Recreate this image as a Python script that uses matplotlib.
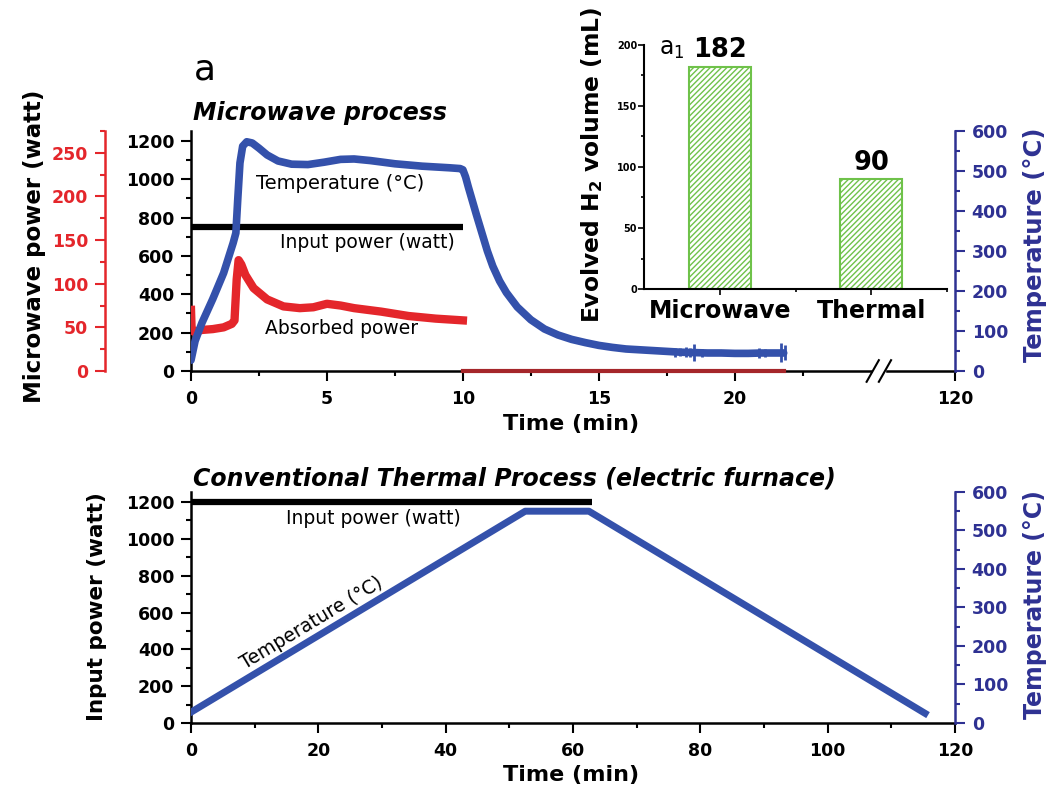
import matplotlib
matplotlib.use("Agg")
import matplotlib.pyplot as plt
from matplotlib.ticker import MultipleLocator, FixedLocator, FixedFormatter
from matplotlib.patches import Rectangle

plt.rcParams['font.family'] = ['DejaVu Sans']
plt.rcParams['mathtext.fontset'] = 'dejavusans'
plt.rcParams['mathtext.default'] = 'regular'
plt.rcParams['hatch.linewidth'] = 1.0

# ---- microwave process (top panel) ----
mw_time = [0, 0.15, 0.4, 0.8, 1.2, 1.55, 1.65, 1.72, 1.8, 1.9, 2.05, 2.25, 2.5, 2.8,
           3.2, 3.7, 4.3, 4.9, 5.5, 6.0, 6.6, 7.5, 8.5, 9.5, 9.9,
           10.0, 10.1, 10.2, 10.35, 10.5, 10.7, 10.9, 11.1, 11.35, 11.6, 12.0, 12.5,
           13.0, 13.5, 14.0, 14.5, 15.0, 15.5, 16.0, 16.5, 17.0, 17.5, 18.0, 18.5,
           19.0, 19.5, 20.0, 20.5, 21.0, 21.5, 21.8]
mw_temp = [27, 75, 120, 180, 245, 320, 345, 430, 520, 562, 573, 570, 557, 540,
           525, 517, 516, 522, 529, 530, 526, 518, 512, 508, 506,
           503, 485, 460, 425, 390, 345, 300, 262, 225, 196, 160, 128,
           105, 90, 79, 71, 64, 59, 55, 53, 51, 49, 47, 46,
           45, 45, 44, 44, 45, 45, 45]

# thermocouple noise spikes near the end of the cooling run
spike_time = [17.8, 18.0, 18.2, 18.35, 18.5, 18.8, 20.9, 21.1, 21.7, 21.85]
spike_low = [36, 38, 34, 36, 25, 35, 32, 36, 22, 28]
spike_high = [58, 57, 60, 58, 68, 56, 58, 56, 70, 64]

abs_time = [0, 0.02, 0.1, 0.4, 0.8, 1.2, 1.5, 1.6, 1.62, 1.68, 1.75, 1.85, 2.0,
            2.3, 2.8, 3.4, 4.0, 4.5, 5.0, 5.5, 6.0, 7.0, 8.0, 9.0, 10.0]
abs_power = [70, 50, 45, 47, 48, 50, 54, 58, 70, 105, 127, 122, 110,
             95, 82, 74, 72, 73, 77, 75, 72, 68, 63, 60, 58]
abs_off_time = [10.0, 21.8]
abs_off_power = [0, 0]

mw_input_time = [0, 10]
mw_input_power = [750, 750]

mw_xticks = [0, 5, 10, 15, 20]
break_at = 25.3      # position of the axis break (min)
axis_end = 28.1      # right end of the broken axis, labelled 120
end_label = '120'

# ---- conventional thermal process (bottom panel) ----
th_time = [0, 52.5, 62.5, 115.3]
th_temp = [28, 550, 550, 25]
th_input_time = [0, 63]
th_input_power = [1200, 1200]

# ---- inset bar chart ----
bar_labels = ['Microwave', 'Thermal']
bar_values = [182, 90]

BLUE_LINE = '#3451ab'
NAVY = '#2e3192'
RED = '#e4262b'
DARK_RED = '#a5262a'
GREEN = '#6fc24a'

TICK_FS = 12.5
fig = plt.figure(figsize=(10.53, 7.89), dpi=100)


def style_axis(ax, color, side):
    ax.spines[side].set_color(color)
    ax.spines[side].set_linewidth(1.8)
    ax.tick_params(axis='y', which='both', colors=color, width=1.5,
                   labelsize=TICK_FS, direction='out')
    ax.tick_params(axis='y', which='major', length=7, pad=5)
    ax.tick_params(axis='y', which='minor', length=3.5)
    for lab in ax.get_yticklabels():
        lab.set_fontweight('bold')


def style_xaxis(ax):
    ax.spines['bottom'].set_linewidth(1.8)
    ax.tick_params(axis='x', which='both', width=1.5, labelsize=TICK_FS,
                   direction='out')
    ax.tick_params(axis='x', which='major', length=7, pad=7)
    ax.tick_params(axis='x', which='minor', length=3.5)
    for lab in ax.get_xticklabels():
        lab.set_fontweight('bold')


# ================= top panel =================
ax1 = fig.add_axes([0.1814, 0.5298, 0.7255, 0.3042])
ax1.set_xlim(0, axis_end)
ax1.set_ylim(0, 1252)
for s in ['top', 'right']:
    ax1.spines[s].set_visible(False)
ax1.yaxis.set_major_locator(MultipleLocator(200))
ax1.yaxis.set_minor_locator(MultipleLocator(100))
ax1.xaxis.set_major_locator(FixedLocator(mw_xticks + [axis_end]))
ax1.xaxis.set_major_formatter(FixedFormatter([str(v) for v in mw_xticks] + [end_label]))
ax1.xaxis.set_minor_locator(FixedLocator([2.5, 7.5, 12.5, 17.5, 22.5]))
style_xaxis(ax1)
style_axis(ax1, 'black', 'left')

ax1.plot(mw_input_time, mw_input_power, color='black', lw=4.5, solid_capstyle='butt')

# red absorbed power axis, pushed outward to the left
ax_red = ax1.twinx()
ax_red.spines['left'].set_position(('outward', 62))
ax_red.spines['left'].set_visible(True)
ax_red.yaxis.set_label_position('left')
ax_red.yaxis.set_ticks_position('left')
for s in ['top', 'right', 'bottom']:
    ax_red.spines[s].set_visible(False)
ax_red.set_ylim(0, 275)
ax_red.yaxis.set_major_locator(MultipleLocator(50))
ax_red.yaxis.set_minor_locator(MultipleLocator(25))
style_axis(ax_red, RED, 'left')
ax_red.plot(abs_time, abs_power, color=RED, lw=6)
ax_red.plot(abs_off_time, abs_off_power, color=DARK_RED, lw=3, clip_on=False)

# temperature axis on the right
ax_t = ax1.twinx()
for s in ['top', 'left', 'bottom']:
    ax_t.spines[s].set_visible(False)
ax_t.set_ylim(0, 600)
ax_t.yaxis.set_major_locator(MultipleLocator(100))
ax_t.yaxis.set_minor_locator(MultipleLocator(50))
style_axis(ax_t, NAVY, 'right')
ax_t.plot(mw_time, mw_temp, color=BLUE_LINE, lw=5.5, solid_joinstyle='round',
          solid_capstyle='round')
ax_t.vlines(spike_time, spike_low, spike_high, color=BLUE_LINE, lw=2)

# axis break marks
bx = break_at / axis_end
ax1.add_patch(Rectangle((bx - 0.008, -0.02), 0.016, 0.04, transform=ax1.transAxes,
                        color='white', clip_on=False, zorder=5))
for dx in (-0.008, 0.008):
    ax1.plot([bx + dx - 0.008, bx + dx + 0.008], [-0.045, 0.045], color='black',
             lw=1.5, transform=ax1.transAxes, clip_on=False, zorder=6)

ax1.text(5.5, 979, 'Temperature (°C)', fontsize=14, ha='center', va='center')
ax1.text(6.5, 672, 'Input power (watt)', fontsize=13.5, ha='center', va='center')
ax1.text(5.55, 224, 'Absorbed power', fontsize=13.5, ha='center', va='center')
ax1.text(0.003, 1.075, 'Microwave process', transform=ax1.transAxes, fontsize=17,
         fontweight='bold', fontstyle='italic', va='center')

fig.text(205 / 1053, 1 - 70 / 789, 'a', fontsize=26, ha='center', va='center')
fig.text(35 / 1053, 1 - 246 / 789, 'Microwave power (watt)', fontsize=16.5,
         fontweight='bold', rotation=90, ha='center', va='center')
fig.text(1035 / 1053, 1 - 245 / 789, 'Temperature (°C)', fontsize=17.5, color=NAVY,
         fontweight='bold', rotation=90, ha='center', va='center')
fig.text(571 / 1053, 1 - 424 / 789, 'Time (min)', fontsize=16, fontweight='bold',
         ha='center', va='center')

# ================= inset bar chart =================
ax_in = fig.add_axes([0.6116, 0.6337, 0.2878, 0.3093])
ax_in.patch.set_alpha(0)
x_pos = list(range(len(bar_labels)))
ax_in.bar(x_pos, bar_values, width=0.41, facecolor='white', edgecolor=GREEN,
          hatch='//////', lw=1.5)
for xp, v in zip(x_pos, bar_values):
    ax_in.text(xp, v + 3, str(v), ha='center', va='bottom', fontsize=18.5,
               fontweight='bold')
ax_in.set_xlim(-0.5, 1.5)
ax_in.set_ylim(0, 200)
ax_in.set_xticks(x_pos)
ax_in.set_xticklabels(bar_labels, fontsize=17, fontweight='bold')
ax_in.xaxis.set_minor_locator(FixedLocator([0.5, 1.5]))
ax_in.yaxis.set_major_locator(MultipleLocator(50))
ax_in.yaxis.set_minor_locator(MultipleLocator(25))
for s in ['top', 'right']:
    ax_in.spines[s].set_visible(False)
for s in ['left', 'bottom']:
    ax_in.spines[s].set_linewidth(1.5)
ax_in.tick_params(axis='both', which='both', width=1.2, direction='out')
ax_in.tick_params(axis='both', which='major', length=4)
ax_in.tick_params(axis='both', which='minor', length=2.5)
ax_in.tick_params(axis='y', labelsize=7, pad=1)
for lab in ax_in.get_yticklabels():
    lab.set_fontweight('bold')
ax_in.text(0.05, 0.985, 'a$_1$', transform=ax_in.transAxes, fontsize=17,
           ha='left', va='center')
fig.text(592 / 1053, 1 - 165 / 789, 'Evolved H$_2$ volume (mL)', fontsize=16.8,
         fontweight='bold', rotation=90, ha='center', va='center')

# ================= bottom panel =================
ax2 = fig.add_axes([0.1814, 0.0837, 0.7255, 0.2928])
ax2.set_xlim(0, 120)
ax2.set_ylim(0, 1255)
for s in ['top', 'right']:
    ax2.spines[s].set_visible(False)
ax2.xaxis.set_major_locator(MultipleLocator(20))
ax2.xaxis.set_minor_locator(MultipleLocator(10))
ax2.yaxis.set_major_locator(MultipleLocator(200))
ax2.yaxis.set_minor_locator(MultipleLocator(100))
style_xaxis(ax2)
style_axis(ax2, 'black', 'left')
ax2.plot(th_input_time, th_input_power, color='black', lw=4.5,
         solid_capstyle='butt', clip_on=False)

ax2_t = ax2.twinx()
for s in ['top', 'left', 'bottom']:
    ax2_t.spines[s].set_visible(False)
ax2_t.set_ylim(0, 600)
ax2_t.yaxis.set_major_locator(MultipleLocator(100))
ax2_t.yaxis.set_minor_locator(MultipleLocator(50))
style_axis(ax2_t, NAVY, 'right')
ax2_t.plot(th_time, th_temp, color=BLUE_LINE, lw=5)

ax2.text(28.6, 1109, 'Input power (watt)', fontsize=13.5, ha='center', va='center')
ax2.text(19.0, 540, 'Temperature (°C)', fontsize=13.5, ha='center', va='center',
         rotation=31)
ax2.text(0.003, 1.06, 'Conventional Thermal Process (electric furnace)',
         transform=ax2.transAxes, fontsize=17, fontweight='bold',
         fontstyle='italic', va='center')

fig.text(97 / 1053, 1 - 607 / 789, 'Input power (watt)', fontsize=15.5,
         fontweight='bold', rotation=90, ha='center', va='center')
fig.text(1035 / 1053, 1 - 605 / 789, 'Temperature (°C)', fontsize=17, color=NAVY,
         fontweight='bold', rotation=90, ha='center', va='center')
fig.text(571 / 1053, 1 - 775 / 789, 'Time (min)', fontsize=16, fontweight='bold',
         ha='center', va='center')

fig.savefig('out.png', dpi=100)
